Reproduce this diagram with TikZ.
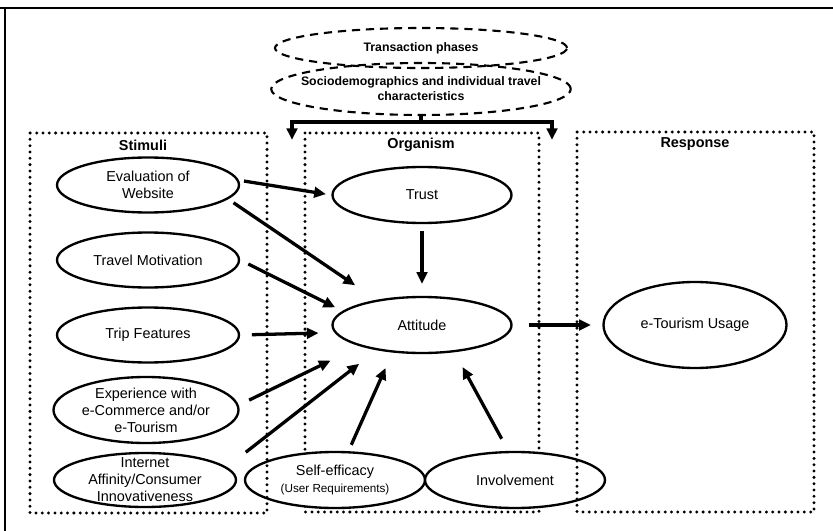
\documentclass[tikz,border=0pt]{standalone}
\usepackage{fontspec}
\setmainfont{Liberation Sans}
\usetikzlibrary{shapes.geometric,arrows.meta}
\tikzset{
  oval/.style={draw, fill=white, ellipse, line width=2pt, inner sep=-12pt, align=center,
    font=\fontsize{12.3}{14.5}\selectfont},
  phase/.style={oval, fill=none, line width=1.8pt, dash pattern=on 7pt off 5pt,
    font=\bfseries\fontsize{10.5}{12.8}\selectfont},
  panel/.style={draw, line width=2.8pt, line cap=round, dash pattern=on 0pt off 5.4pt},
  heading/.style={font=\bfseries\fontsize{12.3}{14.5}\selectfont},
  link/.style={draw, line width=2.8pt, -{Triangle[length=10pt,width=9pt]}},
}
\begin{document}
\begin{tikzpicture}[x=0.03cm, y=-0.03cm]
\useasboundingbox (0,0) rectangle (833,531);
% frame of the scan
\draw[line width=2.5pt] (0,8) -- (833,8);
\draw[line width=1.6pt] (5,8) -- (5,531);

% moderators on top
\node[phase, minimum width=8.76cm, minimum height=1.2cm] (trans) at (421,48) {Transaction phases};
\node[phase, minimum width=8.76cm, minimum height=1.56cm] (socio) at (421,89) {Sociodemographics and individual travel\\characteristics};

% organism panel goes behind the ovals
\draw[panel] (305,133) rectangle (539,512);

% stimuli
\node[oval, minimum width=5.46cm, minimum height=1.65cm] (eval) at (148,185) {Evaluation of\\Website};
\node[oval, minimum width=5.46cm, minimum height=1.65cm] (travel) at (148,260) {Travel Motivation};
\node[oval, minimum width=5.46cm, minimum height=1.65cm] (trip) at (148,335) {Trip Features};
\node[oval, minimum width=5.55cm, minimum height=1.98cm] (exper) at (146,410) {Experience with\\e-Commerce and/or\\e-Tourism};
\node[oval, minimum width=5.46cm, minimum height=1.62cm] (inet) at (145,480) {Internet\\Affinity/Consumer\\Innovativeness};

% organism
\node[oval, minimum width=5.37cm, minimum height=1.68cm] (trust) at (422,195) {Trust};
\node[oval, minimum width=5.37cm, minimum height=1.68cm] (att) at (422,325) {Attitude};
\node[oval, minimum width=5.4cm, minimum height=1.68cm] (self) at (335,480) {Self-efficacy\\{\fontsize{10}{12}\selectfont(User Requirements)}};
\node[oval, minimum width=5.4cm, minimum height=1.68cm] (invol) at (515,480) {Involvement};

% response
\node[oval, minimum width=5.49cm, minimum height=2.58cm] (usage) at (695,325) {e-Tourism Usage};

% the other two panels and the headings
\draw[panel] (30,133) rectangle (267,513);
\draw[panel] (577,132) rectangle (814,512);
\node[heading] (stimuli) at (143,145) {Stimuli};
\node[heading] (organism) at (421,145) {Organism};
\node[heading] (response) at (695,144) {Response};

% bracket from the moderators
\coordinate (fork) at (421,122);
\coordinate (tipL) at (292,140);
\coordinate (tipR) at (552,140);
\path[draw, line width=2.8pt] (socio.south) -- (fork);
\path[link] (fork) -| (tipL);
\path[link] (fork) -| (tipR);

% paths
\path[link, shorten <=4.4pt, shorten >=4.7pt] (eval.3) -- (trust.west);
\path[link, shorten <=5.5pt, shorten >=22pt] (eval.-10) -- (att.151);
\path[link, shorten <=7.7pt, shorten >=6.9pt] (travel.east) -- (att.170);
\path[link, shorten <=10pt, shorten >=13.6pt] (trip.east) -- (att.185);
\path[link, shorten <=9.9pt, shorten >=28pt] (exper.3) -- (att.199);
\path[link, shorten <=20.5pt, shorten >=18.8pt] (inet.9) -- (att.209);
\path[link, shorten <=5.9pt, shorten >=14.4pt] (self.65) -- (att.223);
\path[link, shorten <=11.8pt, shorten >=14.4pt] (invol.103) -- (att.-40);
\path[link, shorten <=6pt, shorten >=10.2pt] (trust.south) -- (att.north);
\path[link, shorten <=14pt, shorten >=9.8pt] (att.east) -- (usage.west);
\end{tikzpicture}
\end{document}
